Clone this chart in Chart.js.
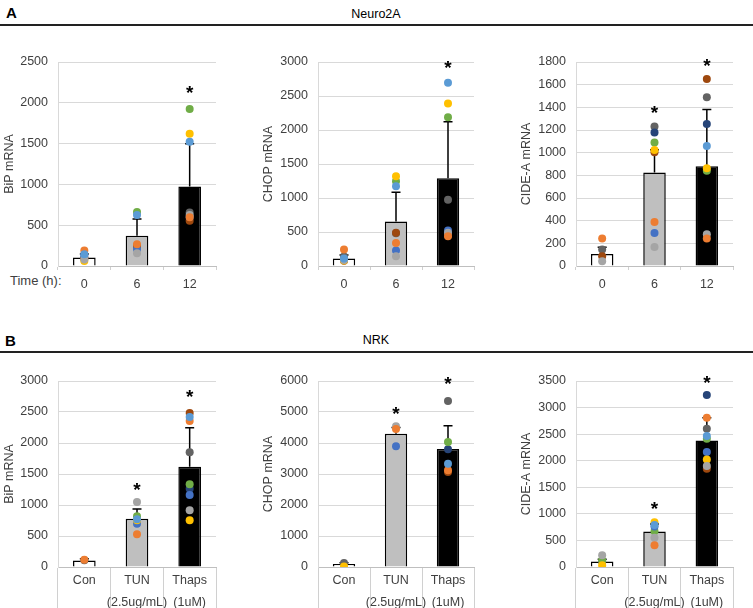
<!DOCTYPE html>
<html>
<head>
<meta charset="utf-8">
<script src="https://cdn.jsdelivr.net/npm/chart.js@4.4.0/dist/chart.umd.min.js"></script>
<style>
  body { margin: 0; width: 753px; height: 608px; background: #fff; position: relative; overflow: hidden;
         font-family: "Liberation Sans", Arial, sans-serif; }
  canvas { position: absolute; }
  .lbl { position: absolute; font-size: 12.5px; line-height: 14px; color: #000; white-space: nowrap; }
  .rule { position: absolute; left: 0; width: 753px; height: 2px; background: #222; }
</style>
</head>
<body>
<div class="lbl" style="left:6px;top:6px;font-weight:bold;font-size:15px;">A</div>
<div class="lbl" style="left:300px;width:152px;text-align:center;top:7px;">Neuro2A</div>
<div class="rule" style="top:24px"></div>
<div class="lbl" style="left:10px;top:274px;color:#404040;font-size:13px;">Time (h):</div>

<div class="lbl" style="left:5px;top:334px;font-weight:bold;font-size:15px;">B</div>
<div class="lbl" style="left:300px;width:152px;text-align:center;top:333px;">NRK</div>
<div class="rule" style="top:351px"></div>

<canvas id="a1" width="226" height="266" style="left:0px;top:30px"></canvas>
<canvas id="a2" width="227" height="266" style="left:257px;top:30px"></canvas>
<canvas id="a3" width="228" height="266" style="left:515px;top:30px"></canvas>
<canvas id="b1" width="226" height="258" style="left:0px;top:350px"></canvas>
<canvas id="b2" width="227" height="258" style="left:257px;top:350px"></canvas>
<canvas id="b3" width="228" height="258" style="left:515px;top:350px"></canvas>

<script>
// categories
const timeLabels = ['0', '6', '12'];
const treatLabels = ['Con', ['TUN', '(2.5ug/mL)'], ['Thaps', '(1uM)']];

// replicate order: light blue, orange, light gray, yellow, blue, green, navy, brown, dark gray
const repColors = ['#5B9BD5', '#ED7D31', '#A5A5A5', '#FFC000', '#4472C4', '#70AD47', '#264478', '#9E480E', '#636363'];

// ---- A: Neuro2A ----
const n2aBipMean = [105, 372, 975];
const n2aBipErr = [42, 205, 522];
const n2aBipStar = [null, null, 2180];
const n2aBipReps = [
  [145, 626, 1522],
  [190, 266, 597],
  [80, 155, 626],
  [60, null, 1620],
  [125, 205, 600],
  [null, 663, 1923],
  [null, null, null],
  [90, 240, 556],
  [105, 245, 655]
];

const n2aChopMean = [110, 655, 1290];
const n2aChopErr = [50, 430, 830];
const n2aChopStar = [null, null, 2990];
const n2aChopReps = [
  [110, 1172, 2694],
  [241, 340, 438],
  [90, 143, 488],
  [80, 1320, 2389],
  [100, 227, 522],
  [95, 1246, 2187],
  [null, null, null],
  [79, 490, 450],
  [138, 480, 975]
];

const n2aCideMean = [105, 825, 880];
const n2aCideErr = [60, 200, 500];
const n2aCideStar = [null, 1393, 1812];
const n2aCideReps = [
  [null, null, 1059],
  [242, 389, 242],
  [41, 168, 280],
  [null, 1024, 862],
  [null, 292, null],
  [null, 1089, 841],
  [null, 1177, 1254],
  [86, 1003, 1649],
  [145, 1230, 1490]
];

// ---- B: NRK ----
const nrkBipMean = [105, 780, 1615];
const nrkBipErr = [30, 155, 630];
const nrkBipStar = [null, 1328, 2823];
const nrkBipReps = [
  [null, 770, 2419],
  [118, 527, 2355],
  [null, 1048, 914],
  [null, 753, 753],
  [null, 699, 1161],
  [null, 817, 1333],
  [null, null, 1263],
  [null, null, 2484],
  [108, null, 1849]
];

const nrkChopMean = [100, 4300, 3810];
const nrkChopErr = [40, 200, 750];
const nrkChopStar = [null, 5086, 6054];
const nrkChopReps = [
  [null, null, 3333],
  [null, 4452, 3118],
  [null, 4538, null],
  [20, null, null],
  [null, 3892, null],
  [null, null, 4032],
  [null, null, 3796],
  [null, null, 3065],
  [129, null, 5355]
];

const nrkCideMean = [105, 670, 2380];
const nrkCideErr = [40, 140, 430];
const nrkCideStar = [null, 1192, 3556];
const nrkCideReps = [
  [null, 790, 2465],
  [null, 408, 2810],
  [220, 552, 1900],
  [31, 841, 2025],
  [null, 760, 2164],
  [125, 671, 2415],
  [null, null, 3237],
  [null, null, 1850],
  [100, null, 2603]
];

Chart.defaults.font.family = "'Liberation Sans', Arial, sans-serif";
Chart.defaults.font.size = 12.5;
const textColor = '#404040';

function panelPlugin(means, errs, stars) {
  return {
    id: 'errStars',
    afterDatasetDraw(chart, args) {
      if (args.index !== 0) return;
      const ctx = chart.ctx;
      const y = chart.scales.y;
      ctx.save();
      ctx.strokeStyle = '#000';
      ctx.lineWidth = 1.5;
      args.meta.data.forEach((bar, i) => {
        const top = y.getPixelForValue(means[i] + errs[i]);
        ctx.beginPath();
        ctx.moveTo(bar.x, bar.y);
        ctx.lineTo(bar.x, top);
        ctx.moveTo(bar.x - 4.5, top);
        ctx.lineTo(bar.x + 4.5, top);
        ctx.stroke();
      });
      ctx.restore();
    },
    afterDraw(chart) {
      const ctx = chart.ctx;
      const x = chart.scales.x, y = chart.scales.y;
      ctx.save();
      ctx.fillStyle = '#000';
      ctx.font = "bold 19px 'Liberation Sans', Arial, sans-serif";
      ctx.textAlign = 'center';
      ctx.textBaseline = 'alphabetic';
      stars.forEach((s, i) => {
        if (s === null) return;
        ctx.fillText('*', x.getPixelForValue(i), y.getPixelForValue(s) + 11);
      });
      ctx.restore();
    }
  };
}

function makePanel(id, opt) {
  const datasets = [{
    type: 'bar',
    data: opt.means,
    backgroundColor: ['#ffffff', '#bfbfbf', '#000000'],
    borderColor: '#000',
    borderWidth: 1.5,
    barPercentage: 0.43,
    categoryPercentage: 1,
    order: 10
  }];
  opt.reps.forEach((r, k) => {
    datasets.push({
      type: 'line',
      data: r,
      showLine: false,
      pointRadius: 4,
      pointBorderWidth: 0,
      pointBackgroundColor: repColors[k],
      order: 0
    });
  });
  new Chart(document.getElementById(id), {
    type: 'bar',
    data: { labels: opt.labels, datasets: datasets },
    options: {
      responsive: false,
      animation: false,
      layout: { padding: { top: opt.padTop, right: 10, left: 0, bottom: 0 } },
      plugins: { legend: { display: false }, tooltip: { enabled: false } },
      scales: {
        x: {
          ticks: { color: textColor, font: { size: 12.5, lineHeight: 1.75 }, padding: opt.xPad, maxRotation: 0, autoSkip: false },
          grid: { drawOnChartArea: false, drawTicks: true, tickLength: opt.tickLen, color: '#d0d0d0', offset: true },
          border: { color: '#bfbfbf' },
          afterFit(s) { s.height = opt.xH; }
        },
        y: {
          min: 0, max: opt.max,
          ticks: { stepSize: opt.step, color: textColor, padding: 10, callback: (v) => String(v) },
          grid: { color: '#d9d9d9', drawTicks: false },
          border: { color: '#d9d9d9' },
          title: { display: true, text: opt.title, color: textColor, font: { size: 12.5 },
                   padding: { top: opt.titlePad, bottom: 0 } },
          afterFit(s) { s.width = opt.yW; }
        }
      }
    },
    plugins: [panelPlugin(opt.means, opt.errs, opt.stars)]
  });
}

const topA = { labels: timeLabels, padTop: 32, xH: 30, tickLen: 4, xPad: 4 };
const topB = { labels: treatLabels, padTop: 31, xH: 41, tickLen: 41, xPad: -38 };

makePanel('a1', Object.assign({}, topA, { yW: 58, titlePad: 2, max: 2500, step: 500, title: 'BiP mRNA',
  means: n2aBipMean, errs: n2aBipErr, stars: n2aBipStar, reps: n2aBipReps }));
makePanel('a2', Object.assign({}, topA, { yW: 61, titlePad: 4, max: 3000, step: 500, title: 'CHOP mRNA',
  means: n2aChopMean, errs: n2aChopErr, stars: n2aChopStar, reps: n2aChopReps }));
makePanel('a3', Object.assign({}, topA, { yW: 61, titlePad: 4, max: 1800, step: 200, title: 'CIDE-A mRNA',
  means: n2aCideMean, errs: n2aCideErr, stars: n2aCideStar, reps: n2aCideReps }));
makePanel('b1', Object.assign({}, topB, { yW: 58, titlePad: 2, max: 3000, step: 500, title: 'BiP mRNA',
  means: nrkBipMean, errs: nrkBipErr, stars: nrkBipStar, reps: nrkBipReps }));
makePanel('b2', Object.assign({}, topB, { yW: 61, titlePad: 4, max: 6000, step: 1000, title: 'CHOP mRNA',
  means: nrkChopMean, errs: nrkChopErr, stars: nrkChopStar, reps: nrkChopReps }));
makePanel('b3', Object.assign({}, topB, { yW: 61, titlePad: 4, max: 3500, step: 500, title: 'CIDE-A mRNA',
  means: nrkCideMean, errs: nrkCideErr, stars: nrkCideStar, reps: nrkCideReps }));
</script>
</body>
</html>
